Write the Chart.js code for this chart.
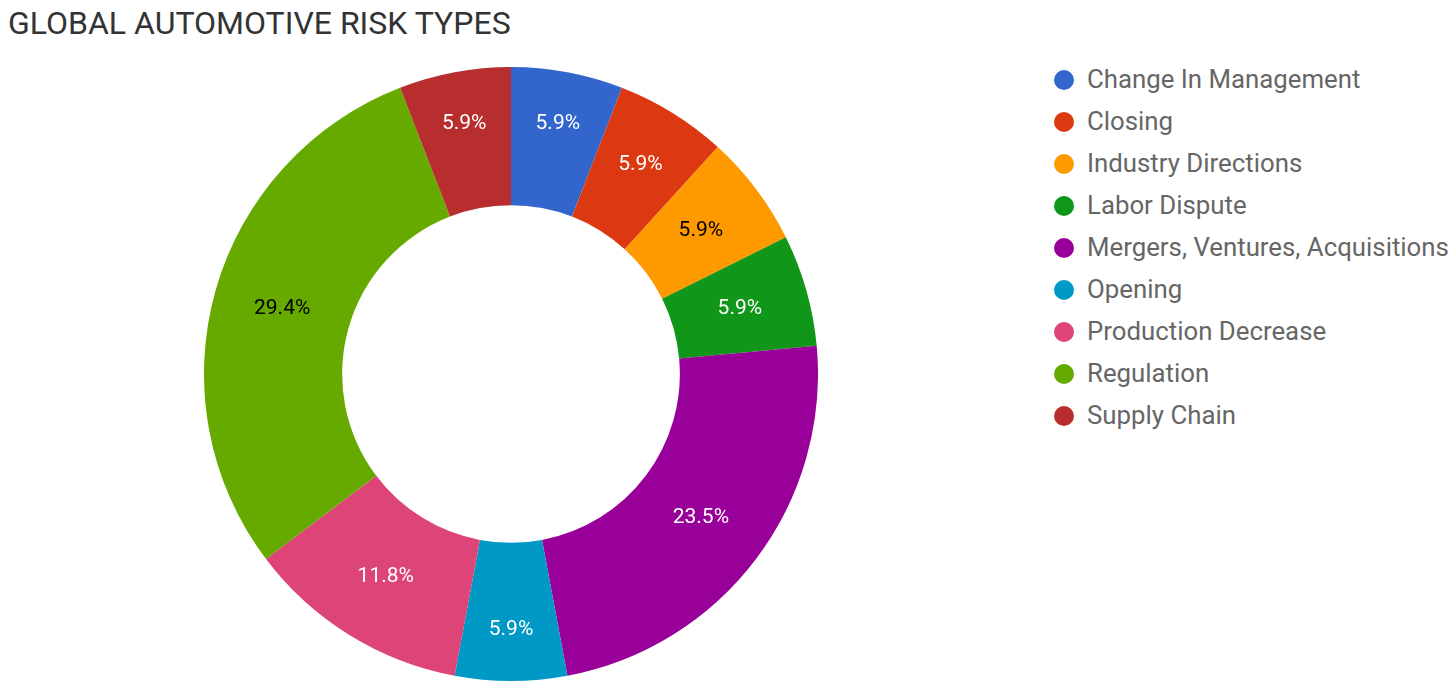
<!DOCTYPE html>
<html>
<head>
<meta charset="utf-8">
<title>Global Automotive Risk Types</title>
<script src="https://cdn.jsdelivr.net/npm/chart.js@4.4.0/dist/chart.umd.min.js"></script>
<style>
  html, body { margin: 0; padding: 0; background: #fff; }
  body { width: 1456px; height: 687px; position: relative; overflow: hidden; font-family: Roboto, "Noto Sans", sans-serif; }
  .title { position: absolute; left: 8px; top: 4px; font-size: 32px; color: #333; white-space: nowrap; }
  .chart-box { position: absolute; left: 204px; top: 67px; width: 614px; height: 614px; }
  .legend { position: absolute; left: 1054px; top: 58px; margin: 0; padding: 0; list-style: none; }
  .legend li { height: 42px; line-height: 42px; font-size: 25.8px; color: #666; white-space: nowrap; }
  .legend .dot { display: inline-block; width: 20px; height: 20px; border-radius: 50%; margin-right: 13px; vertical-align: -2px; }
</style>
</head>
<body>
<div class="title">GLOBAL AUTOMOTIVE RISK TYPES</div>
<div class="chart-box"><canvas id="riskChart"></canvas></div>
<ul class="legend" id="legend"></ul>

<script>
  // ─── Data ──────────────────────────────────────────────
  var categories = [
    'Change In Management',
    'Closing',
    'Industry Directions',
    'Labor Dispute',
    'Mergers, Ventures, Acquisitions',
    'Opening',
    'Production Decrease',
    'Regulation',
    'Supply Chain'
  ];
  var counts = [1, 1, 1, 1, 4, 1, 2, 5, 1];
  var colors = ['#3366cc', '#dc3912', '#ff9900', '#109618', '#990099', '#0099c6', '#dd4477', '#66aa00', '#b82e2e'];
  var labelColors = ['#fff', '#fff', '#000', '#fff', '#fff', '#fff', '#fff', '#000', '#fff'];

  // ─── Legend ────────────────────────────────────────────
  document.getElementById('legend').innerHTML = categories.map(function (c, i) {
    return '<li><span class="dot" style="background:' + colors[i] + '"></span>' + c + '</li>';
  }).join('');

  // ─── Slice labels ──────────────────────────────────────
  var sliceLabels = {
    id: 'sliceLabels',
    afterDatasetsDraw: function (chart) {
      var ctx = chart.ctx;
      var meta = chart.getDatasetMeta(0);
      var data = chart.data.datasets[0].data;
      var total = data.reduce(function (a, b) { return a + b; }, 0);
      ctx.save();
      ctx.font = '21px Roboto, "Noto Sans", sans-serif';
      ctx.textAlign = 'center';
      ctx.textBaseline = 'middle';
      meta.data.forEach(function (arc, i) {
        var p = arc.getProps(['x', 'y', 'startAngle', 'endAngle', 'innerRadius', 'outerRadius'], true);
        var mid = (p.startAngle + p.endAngle) / 2;
        var r = (p.innerRadius + p.outerRadius) / 2;
        // narrow slices near top/bottom: push label outward so it fits
        var share = data[i] / total;
        if (share < 0.1) {
          var c2 = Math.pow(Math.sin(mid), 2);
          r += 18 * Math.max(0, (c2 - 0.5) * 2);
        }
        ctx.fillStyle = labelColors[i];
        ctx.fillText((share * 100).toFixed(1) + '%', p.x + Math.cos(mid) * r, p.y + Math.sin(mid) * r);
      });
      ctx.restore();
    }
  };

  // ─── Chart ─────────────────────────────────────────────
  new Chart(document.getElementById('riskChart'), {
    type: 'doughnut',
    data: {
      labels: categories,
      datasets: [{
        data: counts,
        backgroundColor: colors,
        borderWidth: 0
      }]
    },
    options: {
      responsive: true,
      maintainAspectRatio: false,
      animation: false,
      cutout: '55%',
      layout: { padding: 0 },
      plugins: {
        legend: { display: false },
        tooltip: { enabled: false }
      }
    },
    plugins: [sliceLabels]
  });
</script>
</body>
</html>
